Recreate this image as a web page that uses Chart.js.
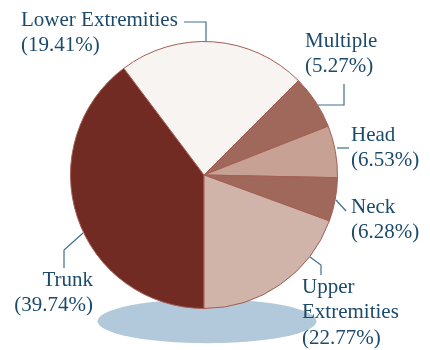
<!DOCTYPE html>
<html lang="en">
<head>
  <meta charset="UTF-8" />
  <title>Injury Location Pie</title>
  <script src="https://cdn.jsdelivr.net/npm/chart.js"></script>
  <style>
    body {
      margin: 0;
      background: #ffffff;
    }
    #wrap {
      width: 430px;
      height: 350px;
    }
  </style>
</head>
<body>
  <div id="wrap">
    <canvas id="pieChart" width="430" height="350"></canvas>
  </div>

  <script>
    // slices, clockwise starting from 6 o'clock
    const categories = ['Trunk', 'Lower Extremities', 'Multiple', 'Head', 'Neck', 'Upper Extremities'];
    // slice sizes as drawn in the picture
    const sliceValues = [39.74, 22.77, 6.53, 6.28, 5.27, 19.41];
    // percentages printed next to each label
    const shownPercents = ['39.74%', '19.41%', '5.27%', '6.53%', '6.28%', '22.77%'];
    const sliceColors = ['#722b22', '#f8f4f2', '#a0675b', '#c7a294', '#a0675b', '#d0b3a9'];

    // label layout, offsets from the pie centre (px)
    const labelLayout = [
      { lines: ['Trunk'], align: 'right', x: -111, y: 105, leader: [[-121, 58], [-140, 75], [-140, 93]] },
      { lines: ['Lower Extremities'], align: 'left', x: -183, y: -155, leader: [[2, -134], [2, -153], [-20, -153]] },
      { lines: ['Multiple'], align: 'left', x: 101, y: -134, leader: [[114, -70], [140, -70], [140, -91]] },
      { lines: ['Head'], align: 'left', x: 147, y: -40, leader: [[133, -27], [145, -27]] },
      { lines: ['Neck'], align: 'left', x: 147, y: 32, leader: [[132, 25], [142, 36]] },
      { lines: ['Upper', 'Extremities'], align: 'left', x: 98, y: 112, leader: [[106, 82], [117, 90], [117, 100]] }
    ];

    const shadowPlugin = {
      id: 'shadow',
      beforeDatasetsDraw(chart) {
        const arc = chart.getDatasetMeta(0).data[0];
        const r = arc.outerRadius;
        const c = chart.ctx;
        c.save();
        c.fillStyle = '#b1c9db';
        c.beginPath();
        c.ellipse(arc.x + 3, arc.y + r * 1.095, r * 0.82, r * 0.165, 0, 0, Math.PI * 2);
        c.fill();
        c.restore();
      }
    };

    const labelPlugin = {
      id: 'sliceLabels',
      afterDatasetsDraw(chart) {
        const arc = chart.getDatasetMeta(0).data[0];
        const cx = arc.x, cy = arc.y;
        const c = chart.ctx;
        c.save();
        labelLayout.forEach((lab, i) => {
          c.strokeStyle = '#3f6f8b';
          c.lineWidth = 1.2;
          c.beginPath();
          lab.leader.forEach((p, k) => {
            if (k === 0) c.moveTo(cx + p[0], cy + p[1]);
            else c.lineTo(cx + p[0], cy + p[1]);
          });
          c.stroke();

          c.fillStyle = '#1b4a6b';
          c.font = '21px "Liberation Serif", "Times New Roman", serif';
          c.textAlign = lab.align;
          c.textBaseline = 'middle';
          const lines = lab.lines.concat(['(' + shownPercents[i] + ')']);
          lines.forEach((t, k) => {
            c.fillText(t, cx + lab.x, cy + lab.y + k * 25.5);
          });
        });
        c.restore();
      }
    };

    const ctx = document.getElementById('pieChart').getContext('2d');

    new Chart(ctx, {
      type: 'pie',
      data: {
        labels: categories,
        datasets: [{
          data: sliceValues,
          backgroundColor: sliceColors,
          borderColor: '#a35e54',
          borderWidth: 1
        }]
      },
      options: {
        responsive: false,
        animation: false,
        rotation: 180,
        layout: {
          padding: { left: 70, right: 92, top: 41, bottom: 41 }
        },
        plugins: {
          legend: { display: false },
          tooltip: { enabled: false }
        }
      },
      plugins: [shadowPlugin, labelPlugin]
    });
  </script>
</body>
</html>
